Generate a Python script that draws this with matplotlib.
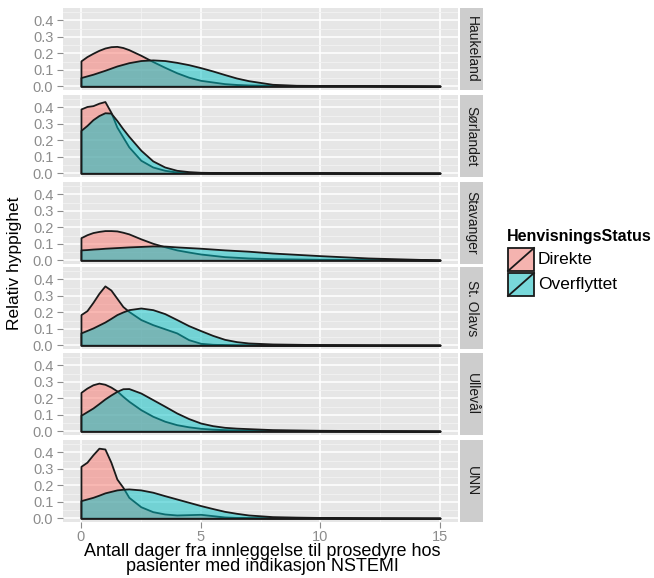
import matplotlib
matplotlib.use('Agg')
import matplotlib.pyplot as plt
from matplotlib.patches import Rectangle
from matplotlib.lines import Line2D

plt.rcParams['font.family'] = ['Liberation Sans', 'DejaVu Sans']

# ---------------- data ----------------
hospitals = ['Haukeland', 'Sørlandet', 'Stavanger', 'St. Olavs', 'Ullevål', 'UNN']
statuses = ['Direkte', 'Overflyttet']

days = [0, 0.25, 0.5, 0.75, 1, 1.25, 1.5, 1.75, 2, 2.5, 3, 3.5, 4, 4.5, 5,
        5.5, 6, 6.5, 7, 8, 9, 10, 12, 15]

haukeland_direkte = [0.154, 0.18, 0.20, 0.218, 0.232, 0.24, 0.242, 0.235, 0.222, 0.188, 0.15, 0.115,
                     0.082, 0.055, 0.036, 0.026, 0.016, 0.011, 0.008, 0.006, 0.005, 0.005, 0.004, 0.002]
haukeland_overflyttet = [0.053, 0.063, 0.073, 0.085, 0.097, 0.11, 0.123, 0.133, 0.143, 0.156, 0.16, 0.156,
                         0.145, 0.131, 0.113, 0.093, 0.071, 0.05, 0.034, 0.012, 0.006, 0.005, 0.004, 0.002]

sorlandet_direkte = [0.39, 0.405, 0.41, 0.425, 0.435, 0.37, 0.28, 0.22, 0.16, 0.079, 0.038, 0.018,
                     0.008, 0.005, 0.004, 0.003, 0.003, 0.003, 0.003, 0.003, 0.003, 0.003, 0.002, 0.002]
sorlandet_overflyttet = [0.26, 0.29, 0.325, 0.35, 0.367, 0.365, 0.32, 0.27, 0.224, 0.14, 0.075, 0.038,
                         0.018, 0.01, 0.006, 0.005, 0.004, 0.004, 0.004, 0.004, 0.004, 0.004, 0.003, 0.002]

stavanger_direkte = [0.137, 0.155, 0.168, 0.175, 0.18, 0.18, 0.178, 0.17, 0.16, 0.13, 0.103, 0.082,
                     0.063, 0.05, 0.038, 0.03, 0.022, 0.018, 0.014, 0.01, 0.008, 0.006, 0.005, 0.002]
stavanger_overflyttet = [0.063, 0.065, 0.068, 0.07, 0.073, 0.075, 0.077, 0.079, 0.081, 0.084, 0.087, 0.086,
                         0.081, 0.077, 0.073, 0.068, 0.063, 0.059, 0.055, 0.044, 0.036, 0.028, 0.014, 0.002]

stolavs_direkte = [0.186, 0.21, 0.26, 0.315, 0.36, 0.335, 0.285, 0.235, 0.205, 0.156, 0.125, 0.10,
                   0.075, 0.034, 0.012, 0.006, 0.004, 0.003, 0.003, 0.002, 0.002, 0.002, 0.001, 0.001]
stolavs_overflyttet = [0.075, 0.09, 0.105, 0.123, 0.141, 0.163, 0.186, 0.202, 0.216, 0.226, 0.216, 0.192,
                       0.156, 0.119, 0.089, 0.06, 0.036, 0.022, 0.014, 0.008, 0.006, 0.004, 0.003, 0.002]

ulleval_direkte = [0.236, 0.262, 0.282, 0.292, 0.285, 0.268, 0.245, 0.212, 0.182, 0.131, 0.091, 0.061,
                   0.04, 0.027, 0.018, 0.013, 0.01, 0.008, 0.007, 0.006, 0.005, 0.004, 0.003, 0.002]
ulleval_overflyttet = [0.097, 0.119, 0.141, 0.168, 0.196, 0.22, 0.242, 0.258, 0.259, 0.232, 0.192, 0.152,
                       0.111, 0.077, 0.05, 0.034, 0.024, 0.019, 0.016, 0.01, 0.008, 0.006, 0.004, 0.002]

unn_direkte = [0.315, 0.34, 0.385, 0.425, 0.42, 0.34, 0.238, 0.188, 0.127, 0.07, 0.04, 0.026,
               0.02, 0.022, 0.024, 0.016, 0.008, 0.005, 0.004, 0.003, 0.003, 0.003, 0.002, 0.001]
unn_overflyttet = [0.107, 0.117, 0.127, 0.14, 0.154, 0.163, 0.172, 0.176, 0.178, 0.172, 0.158, 0.137,
                   0.117, 0.097, 0.077, 0.059, 0.042, 0.03, 0.02, 0.01, 0.007, 0.005, 0.003, 0.002]

direkte_series = [haukeland_direkte, sorlandet_direkte, stavanger_direkte,
                  stolavs_direkte, ulleval_direkte, unn_direkte]
overflyttet_series = [haukeland_overflyttet, sorlandet_overflyttet, stavanger_overflyttet,
                      stolavs_overflyttet, ulleval_overflyttet, unn_overflyttet]

x_ticks = [0, 5, 10, 15]
y_ticks = [0.0, 0.1, 0.2, 0.3, 0.4]
y_tick_labels = ['0.0', '0.1', '0.2', '0.3', '0.4']

xlabel = 'Antall dager fra innleggelse til prosedyre hos\npasienter med indikasjon NSTEMI'
ylabel = 'Relativ hyppighet'
legend_title = 'HenvisningsStatus'

# ---------------- style ----------------
fill_direkte = (0.973, 0.463, 0.427, 0.5)
fill_overflyttet = (0.0, 0.749, 0.769, 0.5)
panel_bg = '#E6E6E6'
strip_bg = '#CDCDCD'
tick_col = '#8C8C8C'
edge_col = '#1a1a1a'

W, H = 654, 578
fig = plt.figure(figsize=(W / 100, H / 100), dpi=100)
fig.patch.set_facecolor('white')

left, right = 63, 458
strip_gap, strip_w = 2, 23
tops = [8, 95, 182, 267, 353, 440]
ph = 82

for i, name in enumerate(hospitals):
    bottom = 1 - (tops[i] + ph) / H
    ax = fig.add_axes([left / W, bottom, (right - left) / W, ph / H])
    ax.set_facecolor(panel_bg)
    ax.set_xlim(-0.75, 15.75)
    ax.set_ylim(-0.0226, 0.4746)
    ax.set_xticks(x_ticks)
    ax.set_yticks(y_ticks)
    ax.set_yticklabels(y_tick_labels)
    ax.set_xticks([2.5, 7.5, 12.5], minor=True)
    ax.set_yticks([0.05, 0.15, 0.25, 0.35, 0.45], minor=True)
    ax.grid(which='major', color='white', linewidth=1.1)
    ax.grid(which='minor', color='#F2F2F2', linewidth=0.6)
    ax.set_axisbelow(True)
    for s in ax.spines.values():
        s.set_visible(False)
    ax.tick_params(which='major', length=4.5, width=0.8, color=tick_col,
                   labelcolor=tick_col, labelsize=10.5, pad=2.5)
    ax.tick_params(axis='x', which='major', pad=1.5)
    ax.tick_params(which='minor', length=0)
    if i < len(hospitals) - 1:
        ax.tick_params(axis='x', which='major', length=0, labelbottom=False)

    ax.fill_between(days, 0, direkte_series[i], facecolor=fill_direkte,
                    edgecolor=edge_col, linewidth=1.3, zorder=3)
    ax.fill_between(days, 0, overflyttet_series[i], facecolor=fill_overflyttet,
                    edgecolor=edge_col, linewidth=1.3, zorder=4)

    sax = fig.add_axes([(right + strip_gap) / W, bottom, strip_w / W, ph / H])
    sax.set_facecolor(strip_bg)
    sax.set_xticks([]); sax.set_yticks([])
    for s in sax.spines.values():
        s.set_visible(False)
    sax.text(0.5, 0.5, name, rotation=270, ha='center', va='center',
             fontsize=10, color='#1A1A1A', transform=sax.transAxes)

fig.text(15 / W, 1 - 263 / H, ylabel, rotation=90, ha='center', va='center',
         fontsize=12.5, color='black')
fig.text(262 / W, 1 - 543 / H, xlabel, ha='center', va='top',
         fontsize=13, color='black', linespacing=0.88)

# legend (drawn in pixel coordinates on an overlay)
lax = fig.add_axes([0, 0, 1, 1], facecolor='none')
lax.set_xlim(0, W); lax.set_ylim(H, 0)
lax.axis('off')
lax.text(507, 236, legend_title, fontsize=11.5, fontweight='bold', ha='left', va='center')
key_x, key_w, key_h = 507, 28, 25
for j, (lab, col) in enumerate([(statuses[0], fill_direkte), (statuses[1], fill_overflyttet)]):
    ky = 247 + j * key_h
    lax.add_patch(Rectangle((key_x, ky), key_w, key_h, facecolor='#F2F2F2', edgecolor='none'))
    lax.add_patch(Rectangle((key_x + 1, ky + 1), key_w - 2, key_h - 2, facecolor=col,
                            edgecolor=edge_col, linewidth=1.3))
    lax.add_line(Line2D([key_x + 1, key_x + key_w - 1], [ky + key_h - 1, ky + 1],
                        color=edge_col, linewidth=1.3))
    lax.text(538, ky + key_h / 2, lab, fontsize=12.5, ha='left', va='center')

fig.savefig('out.png', dpi=100, facecolor='white')
